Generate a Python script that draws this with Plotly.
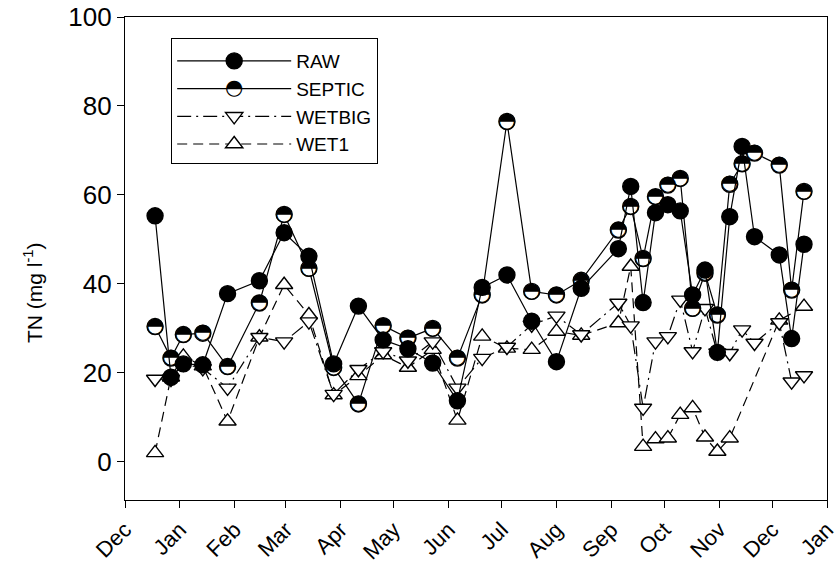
import plotly.graph_objects as go

# Sampling dates (Dec 2003 - Dec 2004)
dates = [
    "2003-12-18", "2003-12-27", "2004-01-03", "2004-01-14", "2004-01-28",
    "2004-02-15", "2004-02-29", "2004-03-14", "2004-03-28", "2004-04-11",
    "2004-04-25", "2004-05-09", "2004-05-23", "2004-06-06", "2004-06-20",
    "2004-07-04", "2004-07-18", "2004-08-01", "2004-08-15", "2004-09-05",
    "2004-09-12", "2004-09-19", "2004-09-26", "2004-10-03", "2004-10-10",
    "2004-10-17", "2004-10-24", "2004-10-31", "2004-11-07", "2004-11-14",
    "2004-11-21", "2004-12-05", "2004-12-12", "2004-12-19",
]

# Total nitrogen, mg/l
raw = [55.3, 19.0, 22.0, 21.8, 37.8, 40.7, 51.5, 46.2, 22.0, 35.0,
       27.4, 25.4, 22.2, 13.7, 39.2, 42.0, 31.6, 22.5, 39.0, 47.9,
       61.9, 35.8, 56.0, 57.8, 56.4, 37.5, 43.1, 24.6, 55.1, 70.9,
       50.6, 46.5, 27.7, 48.9]
septic = [30.4, 23.3, 28.6, 28.9, 21.4, 35.7, 55.6, 43.5, 21.2, 13.0,
          30.6, 27.8, 30.0, 23.3, 37.5, 76.5, 38.3, 37.5, 40.8, 52.1,
          57.4, 45.7, 59.6, 62.2, 63.7, 34.5, 42.4, 33.0, 62.4, 67.0,
          69.4, 66.7, 38.6, 60.8]
wetbig = [18.6, 18.6, 22.0, 21.0, 16.6, 28.0, 27.0, 31.5, 15.2, 20.8,
          24.8, 22.7, 27.0, 16.6, 23.3, 25.8, 30.8, 32.8, 28.6, 35.7,
          30.6, 12.1, 27.0, 28.2, 36.4, 24.8, 34.5, 24.5, 24.4, 29.7,
          26.7, 31.3, 18.0, 19.4]
wet1 = [2.0, 19.0, 23.7, 21.5, 9.1, 28.0, 39.8, 33.0, 15.0, 19.3,
        24.0, 21.2, 25.2, 9.3, 28.2, 25.5, 25.2, 29.3, 28.4, 31.2,
        43.9, 3.4, 5.1, 5.3, 10.6, 12.1, 5.5, 2.3, 5.3, None,
        None, 31.8, None, 34.9]

month_ticks = ["2003-12-01", "2004-01-01", "2004-02-01", "2004-03-01",
               "2004-04-01", "2004-05-01", "2004-06-01", "2004-07-01",
               "2004-08-01", "2004-09-01", "2004-10-01", "2004-11-01",
               "2004-12-01", "2005-01-01"]
month_labels = ["Dec", "Jan", "Feb", "Mar", "Apr", "May", "Jun", "Jul",
                "Aug", "Sep", "Oct", "Nov", "Dec", "Jan"]
y_ticks = [0, 20, 40, 60, 80, 100]

FONT = "Liberation Sans, Arial, Helvetica, sans-serif"
LINE_W = 1.2
EDGE_W = 1.4
HALF_DISC = "\u25D3"  # circle with upper half black

fig = go.Figure()

# open triangles, dashed
fig.add_trace(go.Scatter(
    x=dates, y=wet1, name="WET1", mode="lines+markers", connectgaps=True,
    line=dict(color="black", width=LINE_W, dash="10px,6px"),
    marker=dict(symbol="triangle-up", size=15, color="white",
                line=dict(color="black", width=EDGE_W)),
))
# open inverted triangles, dash-dot
fig.add_trace(go.Scatter(
    x=dates, y=wetbig, name="WETBIG", mode="lines+markers",
    line=dict(color="black", width=LINE_W, dash="14px,5px,2px,5px"),
    marker=dict(symbol="triangle-down", size=15, color="white",
                line=dict(color="black", width=EDGE_W)),
))
# legend key for SEPTIC (line only; the half-black symbol is added as text)
fig.add_trace(go.Scatter(
    x=[None], y=[None], name="SEPTIC", mode="lines", legendgroup="septic",
    line=dict(color="black", width=LINE_W), hoverinfo="skip",
))
# half-filled circles: white disc underneath, glyph with black upper half on top
fig.add_trace(go.Scatter(
    x=dates, y=septic, name="SEPTIC", mode="lines+markers",
    legendgroup="septic", showlegend=False,
    line=dict(color="black", width=LINE_W),
    marker=dict(symbol="circle", size=16, color="white",
                line=dict(color="black", width=EDGE_W)),
))
fig.add_trace(go.Scatter(
    x=dates, y=septic, mode="text", text=[HALF_DISC] * len(dates),
    textposition="middle center", legendgroup="septic",
    textfont=dict(family="DejaVu Sans", size=21, color="black"),
    showlegend=False, hoverinfo="skip",
))
# filled circles, solid
fig.add_trace(go.Scatter(
    x=dates, y=raw, name="RAW", mode="lines+markers",
    line=dict(color="black", width=LINE_W),
    marker=dict(symbol="circle", size=16, color="black",
                line=dict(color="black", width=EDGE_W)),
))

fig.update_layout(
    width=836, height=569,
    margin=dict(l=125, r=9, t=17, b=69),
    paper_bgcolor="white", plot_bgcolor="white",
    font=dict(family=FONT, color="black"),
    showlegend=True,
    legend=dict(
        x=0.0655, y=0.956, xanchor="left", yanchor="top",
        traceorder="reversed",
        bgcolor="white", bordercolor="black", borderwidth=1.2,
        font=dict(family=FONT, size=19, color="black"),
        itemwidth=114, entrywidth=92, entrywidthmode="pixels",
        title=dict(text=" ", font=dict(size=2)),
    ),
    xaxis=dict(
        type="date", range=["2003-12-01", "2005-01-01"], automargin=False,
        tickmode="array", tickvals=month_ticks, ticktext=month_labels,
        tickangle=-45, tickfont=dict(size=22), ticklabeloverflow="allow",
        ticks="outside", ticklen=7, tickwidth=1.3, tickcolor="black",
        showline=True, linecolor="black", linewidth=1.3, mirror=True,
        showgrid=False, zeroline=False,
    ),
    yaxis=dict(
        range=[-8.6, 100], automargin=False,
        tickmode="array", tickvals=y_ticks,
        tickfont=dict(size=26),
        ticks="outside", ticklen=7, tickwidth=1.3, tickcolor="black",
        showline=True, linecolor="black", linewidth=1.3, mirror=True,
        showgrid=False, zeroline=False,
    ),
    annotations=[
        dict(
            text="TN (mg l<sup>-1</sup>)", textangle=-90,
            xref="paper", yref="paper", x=-0.131, y=0.4286,
            xanchor="center", yanchor="middle", showarrow=False,
            font=dict(family=FONT, size=21, color="black"),
        ),
        # half-black key symbol for the SEPTIC legend entry
        dict(
            text=HALF_DISC, xref="paper", yref="paper", x=0.1553, y=0.855,
            xanchor="center", yanchor="middle", showarrow=False,
            font=dict(family="DejaVu Sans", size=21, color="black"),
        ),
    ],
)

fig.write_html("out.html")
